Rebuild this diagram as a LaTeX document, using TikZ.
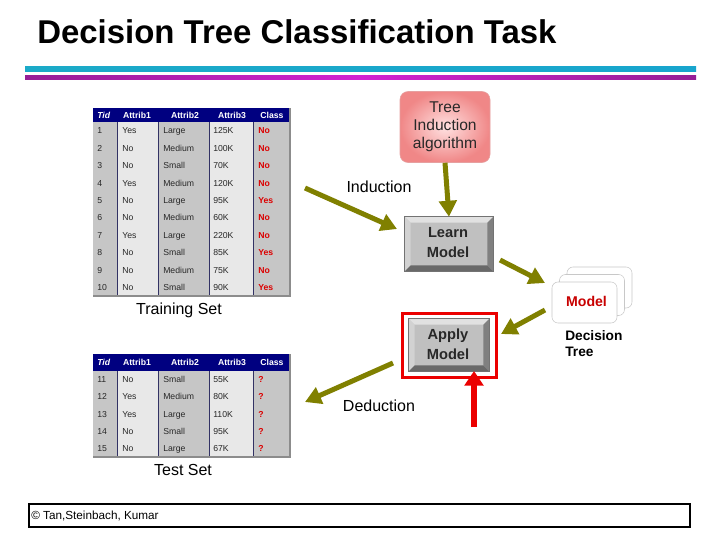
\documentclass[tikz,border=0pt]{standalone}
\usepackage{fontspec}
\setmainfont{Liberation Sans}
\usetikzlibrary{arrows.meta,calc,shadings}
\definecolor{arrowolive}{RGB}{128,128,0}
\definecolor{arrowred}{RGB}{235,0,0}
\definecolor{cyanline}{RGB}{27,170,200}
\definecolor{cyanlineb}{RGB}{24,165,205}
\definecolor{magedge}{RGB}{150,30,150}
\definecolor{magmid}{RGB}{210,35,210}
\definecolor{navyhdr}{RGB}{0,0,128}
\definecolor{colgray}{RGB}{198,198,198}
\definecolor{collight}{RGB}{232,232,232}
\definecolor{divider}{RGB}{50,50,100}
\definecolor{shadowgray}{RGB}{140,140,140}
\definecolor{celltext}{RGB}{40,40,40}
\definecolor{clsred}{RGB}{220,0,0}
\definecolor{bevface}{RGB}{192,192,192}
\definecolor{bevtop}{RGB}{225,225,225}
\definecolor{bevleft}{RGB}{210,210,210}
\definecolor{bevright}{RGB}{128,128,128}
\definecolor{bevbot}{RGB}{105,105,105}
\definecolor{pinkin}{RGB}{255,225,225}
\definecolor{pinkout}{RGB}{240,135,135}
\definecolor{pinkborder}{RGB}{230,160,160}
\definecolor{cardgray}{RGB}{200,200,200}
\definecolor{modelred}{RGB}{200,0,0}
\definecolor{boxtext}{RGB}{40,40,40}
\newcommand\bevelframe[1]{%
  \fill[bevtop] (#1.north west) -- (#1.north east) -- ($(#1.north east)+(-6,6)$) -- ($(#1.north west)+(6,6)$) -- cycle;
  \fill[bevleft] (#1.north west) -- ($(#1.north west)+(6,6)$) -- ($(#1.south west)+(6,-6)$) -- (#1.south west) -- cycle;
  \fill[bevright] (#1.north east) -- ($(#1.north east)+(-6,6)$) -- ($(#1.south east)+(-6,-6)$) -- (#1.south east) -- cycle;
  \fill[bevbot] (#1.south west) -- ($(#1.south west)+(6,-6)$) -- ($(#1.south east)+(-6,-6)$) -- (#1.south east) -- cycle;
  \draw[black!55, line width=0.4pt] (#1.north west) rectangle (#1.south east);
}
\newcommand\tablebg[3]{%
  \fill[colgray] (93,#2) rectangle (117,#3);
  \fill[collight] (117,#2) rectangle (158,#3);
  \fill[colgray] (158,#2) rectangle (209,#3);
  \fill[collight] (209,#2) rectangle (253,#3);
  \fill[colgray] (253,#2) rectangle (290,#3);
  \fill[navyhdr] (93,#1) rectangle (290,#2);
  \foreach \xx in {117,158,209,253} \draw[divider, line width=0.6pt] (\xx,#2) -- (\xx,#3);
  \draw[shadowgray, line width=1pt] (290,#1) -- (290,#3) -- (93,#3);
}
\tikzset{
  olivearrow/.style={draw=arrowolive, line width=3.75pt, -{Triangle[length=12pt,width=13pt]}},
  redarrow/.style={draw=arrowred, line width=4pt, -{Triangle[length=11pt,width=14pt]}},
  bevelbox/.style={fill=bevface, inner sep=0pt, align=center, text=boxtext,
    font=\fontsize{11}{15}\selectfont\bfseries},
  card/.style={draw=cardgray, fill=white, rounded corners=4.5pt, minimum width=48.75pt, minimum height=30.75pt, inner sep=0pt},
  cell/.style={anchor=base west, inner sep=0pt, font=\fontsize{6.5}{7}\selectfont, text=celltext},
  hdr/.style={anchor=base, inner sep=0pt, font=\fontsize{6.5}{7}\selectfont\bfseries, text=white},
  clscell/.style={cell, text=clsred, font=\fontsize{6.5}{7}\selectfont\bfseries},
  lbl/.style={inner sep=0pt, font=\fontsize{12}{14}\selectfont},
}
\begin{document}
\begin{tikzpicture}[x=0.75pt,y=-0.75pt]
\useasboundingbox (0,0) rectangle (720,540);
\fill[white] (0,0) rectangle (720,540);

% title and rules
\node[anchor=base west, inner sep=0pt, font=\fontsize{24.7}{28}\selectfont\bfseries] (title) at (37,43.5) {Decision Tree Classification Task};
\shade[left color=cyanline, right color=cyanlineb] (25,66) rectangle (696,71.5);
\shade[left color=magedge, right color=magedge, middle color=magmid] (25,75) rectangle (696,79);

% training table
\tablebg{108}{122}{296}
\node[hdr, anchor=base west] (trh0) at (97,118.1) {\itshape Tid};
\node[hdr] (trh1) at (137,118.1) {Attrib1};
\node[hdr] (trh2) at (185,118.1) {Attrib2};
\node[hdr] (trh3) at (232,118.1) {Attrib3};
\node[hdr] (trh4) at (272,118.1) {Class};
\foreach \id/\aa/\bb/\cc/\kk [count=\r] in {1/Yes/Large/125K/No, 2/No/Medium/100K/No, 3/No/Small/70K/No, 4/Yes/Medium/120K/No, 5/No/Large/95K/Yes, 6/No/Medium/60K/No, 7/Yes/Large/220K/No, 8/No/Small/85K/Yes, 9/No/Medium/75K/No, 10/No/Small/90K/Yes}{
  \pgfmathsetmacro\yy{122+(\r-0.5)*17.4+3.1}
  \node[cell] (tr\r-0) at (97,\yy) {\id};
  \node[cell] (tr\r-1) at (122,\yy) {\aa};
  \node[cell] (tr\r-2) at (163,\yy) {\bb};
  \node[cell] (tr\r-3) at (213,\yy) {\cc};
  \node[clscell] (tr\r-4) at (258,\yy) {\kk};
}
\node[lbl] (trainlbl) at (179,310) {Training Set};

% test table
\tablebg{354}{371}{457}
\node[hdr, anchor=base west] (teh0) at (97,365.6) {\itshape Tid};
\node[hdr] (teh1) at (137,365.6) {Attrib1};
\node[hdr] (teh2) at (185,365.6) {Attrib2};
\node[hdr] (teh3) at (232,365.6) {Attrib3};
\node[hdr] (teh4) at (272,365.6) {Class};
\foreach \id/\aa/\bb/\cc [count=\r] in {11/No/Small/55K, 12/Yes/Medium/80K, 13/Yes/Large/110K, 14/No/Small/95K, 15/No/Large/67K}{
  \pgfmathsetmacro\yy{371+(\r-0.5)*17.2+3.1}
  \node[cell] (te\r-0) at (97,\yy) {\id};
  \node[cell] (te\r-1) at (122,\yy) {\aa};
  \node[cell] (te\r-2) at (163,\yy) {\bb};
  \node[cell] (te\r-3) at (213,\yy) {\cc};
  \node[clscell] (te\r-4) at (258,\yy) {?};
}
\node[lbl] (testlbl) at (183,470) {Test Set};

% tree induction algorithm
\node[draw=pinkborder, rounded corners=6pt, inner color=pinkin, outer color=pinkout,
  minimum width=67.5pt, minimum height=53.25pt, inner sep=0pt, align=center, text=boxtext,
  font=\fontsize{11.7}{13.5}\selectfont] (tia) at (445,127) {Tree\\Induction\\algorithm};

% learn model
\node[bevelbox, minimum width=66pt, minimum height=40.5pt] (learn) at (449,244) {};
\bevelframe{learn}
\node[inner sep=0pt, align=center, text=boxtext, font=\fontsize{11}{15}\selectfont\bfseries] (learntxt) at (448,243) {Learn\\Model};

% apply model
\node[draw=arrowred, line width=2.25pt, minimum width=70.5pt, minimum height=48pt, inner sep=0pt] (applyframe) at (449,345) {};
\node[bevelbox, minimum width=60pt, minimum height=39pt] (apply) at (449,345) {};
\bevelframe{apply}
\node[inner sep=0pt, align=center, text=boxtext, font=\fontsize{11}{15}\selectfont\bfseries] (applytxt) at (448,344) {Apply\\Model};

% model cards
\node[card] (m3) at (599.5,287.5) {};
\node[card] (m2) at (592,295) {};
\node[card, font=\fontsize{10.6}{12}\selectfont\bfseries, text=modelred] (m1) at (584.5,302.5) {\raisebox{1.5pt}{\hspace{3pt}Model}};
\node[anchor=north west, inner sep=0pt, align=left, font=\fontsize{10.3}{12}\selectfont\bfseries] (dtlabel) at (565,330) {Decision\\Tree};

% labels
\node[lbl] (indlbl) at (379,187) {Induction};
\node[lbl] (dedlbl) at (379,406) {Deduction};

% connectors
\coordinate (indA) at (305,188);
\coordinate (indB) at (397,229);
\coordinate (lmA) at (500,260);
\coordinate (lmB) at (545,283);
\coordinate (maA) at (545,310);
\coordinate (maB) at (501,334);
\coordinate (dedA) at (393,363);
\coordinate (dedB) at (305,402);
\coordinate (redA) at (474,427);
\coordinate (redB) at (474,371);
\draw[olivearrow] (indA) -- (indB);
\draw[olivearrow] (tia.south) -- (learn.north);
\draw[olivearrow] (lmA) -- (lmB);
\draw[olivearrow] (maA) -- (maB);
\draw[olivearrow] (dedA) -- (dedB);
\draw[redarrow] (redA) -- (redB);

% footer
\node[draw=black, line width=1.5pt, minimum width=495.75pt, minimum height=17.25pt, inner sep=0pt] (footer) at (359.5,515.5) {};
\node[anchor=west, inner sep=0pt, font=\fontsize{8.8}{10}\selectfont] (credit) at (31,516) {© Tan,Steinbach, Kumar};
\end{tikzpicture}
\end{document}
